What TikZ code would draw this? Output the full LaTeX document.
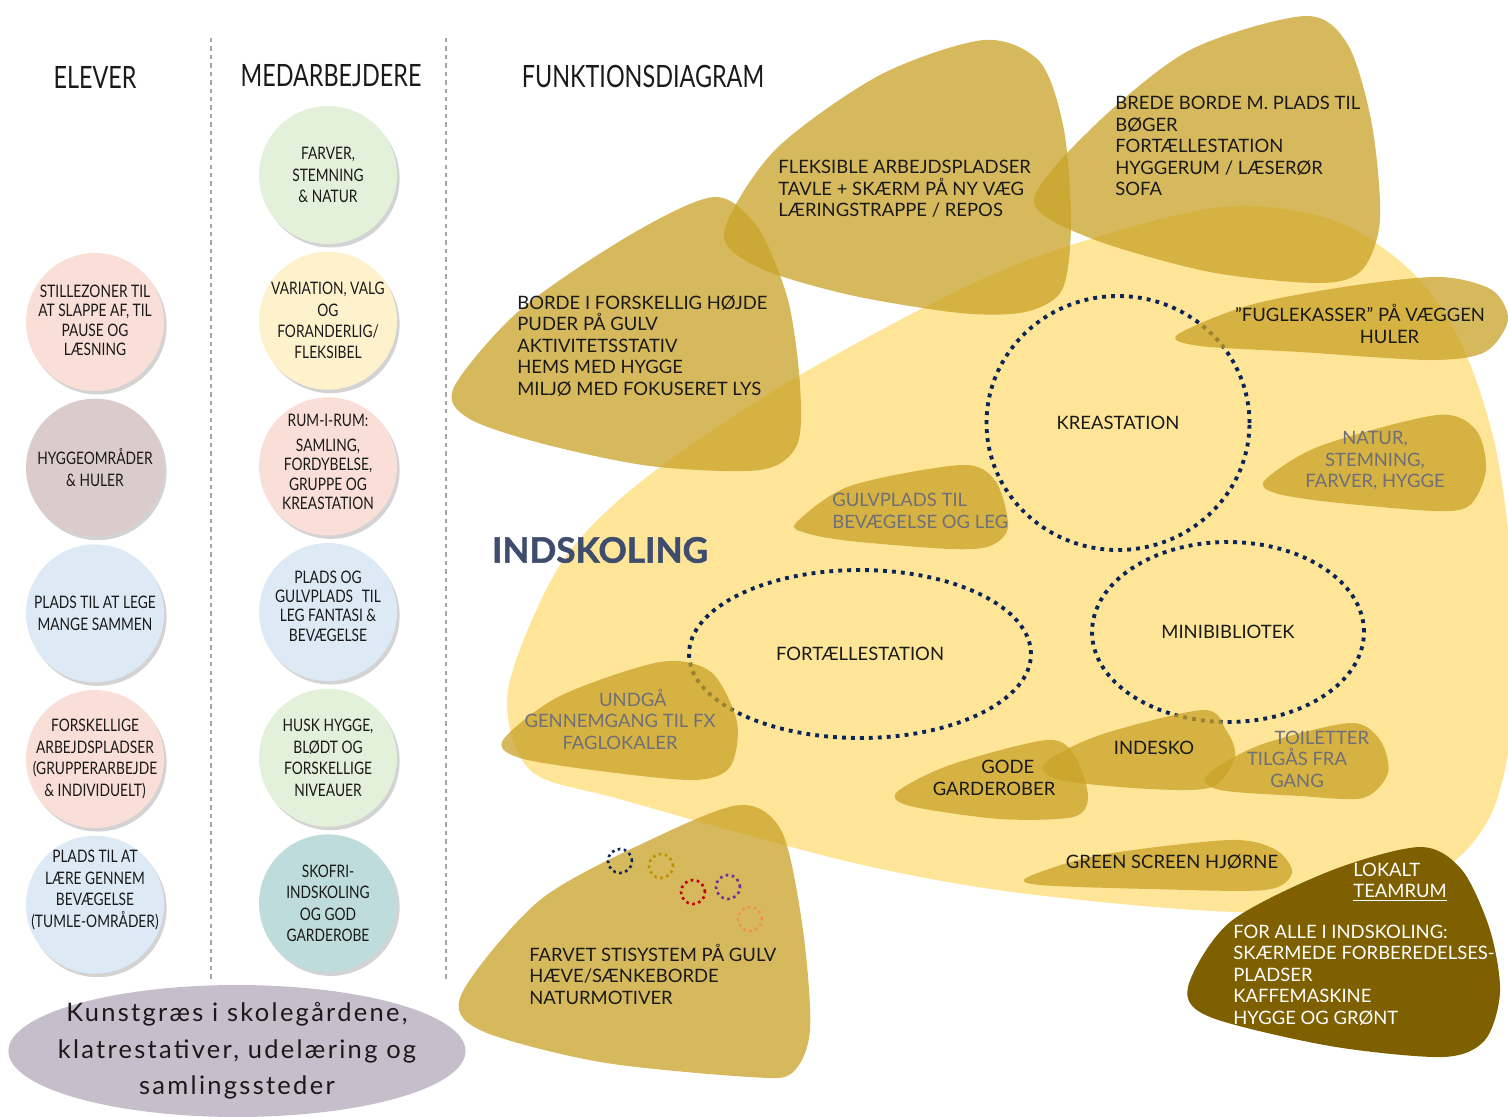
\documentclass[tikz,border=0pt]{standalone}
\usepackage{fontspec}
\setmainfont{Lato}
\newfontfamily\condfont[FakeStretch=0.8]{Lato}
\newfontfamily\titlefont[FakeStretch=0.76]{Lato}
\usetikzlibrary{positioning, shapes.geometric, shadows}

\definecolor{pinkbg}{HTML}{F9DFD7}
\definecolor{mauvebg}{HTML}{DACCCB}
\definecolor{bluebg}{HTML}{DDEAF6}
\definecolor{greenbg}{HTML}{E3F0DA}
\definecolor{creambg}{HTML}{FEF2CD}
\definecolor{tealbg}{HTML}{BEDCDB}
\definecolor{lilacbg}{HTML}{C7BECC}
\definecolor{zoneyellow}{HTML}{FEE597}
\definecolor{ochre}{HTML}{C9A227}
\definecolor{darkgold}{HTML}{BF9000}
\definecolor{olive}{HTML}{7F6000}
\definecolor{navy}{HTML}{0D2458}
\definecolor{slate}{HTML}{3E4D6D}
\definecolor{softgray}{HTML}{6E6F78}
\definecolor{rulegray}{HTML}{A5A5A5}
\definecolor{dotred}{HTML}{C00000}
\definecolor{dotpurple}{HTML}{7030A0}
\definecolor{dotorange}{HTML}{F4904A}
\definecolor{inkblack}{HTML}{1A1A1A}

\begin{document}
\begin{tikzpicture}[x=0.02cm, y=-0.02cm,
    every node/.style={text=inkblack},
    title/.style={font=\titlefont\fontsize{17.5}{20}\selectfont},
    bubble/.style={circle, minimum size=2.76cm, inner sep=-12pt, align=center,
        font=\condfont\fontsize{9.8}{12.2}\selectfont,
        drop shadow={shadow xshift=1.5pt, shadow yshift=-2pt, opacity=0.35}},
    tight/.style={font=\condfont\fontsize{9.8}{11}\selectfont},
    blob/.style={fill=ochre, fill opacity=0.75},
    station/.style={ellipse, draw=navy, line width=2.2pt, dash pattern=on 2.2pt off 2.9pt,
        inner sep=0pt, font=\fontsize{10.5}{12.2}\selectfont},
    listtext/.style={align=left, inner sep=0pt, font=\fontsize{10.5}{12.2}\selectfont},
    grey/.style={text=softgray}]

    \useasboundingbox (0,0) rectangle (1508,1116);

    % Column titles and dividers
    \node[title] (elever) at (95,77) {ELEVER};
    \node[title] (medarb) at (331,76) {MEDARBEJDERE};
    \node[title] (funk) at (643,76) {FUNKTIONSDIAGRAM};
    \draw[rulegray, line width=0.8pt, dash pattern=on 2.5pt off 2.3pt] (211,38) -- (211,980);
    \draw[rulegray, line width=0.8pt, dash pattern=on 2.5pt off 2.3pt] (446,38) -- (446,980);

    % Elever
    \node[bubble, tight, fill=pinkbg] (stille) at (95,322) {\mbox{}\\[-5.9pt]STILLEZONER TIL\\AT SLAPPE AF, TIL\\PAUSE OG\\LÆSNING};
    \node[bubble, fill=mauvebg, below=0.14cm of stille] (hygge) {HYGGEOMRÅDER\\\& HULER};
    \node[bubble, fill=bluebg, below=0.14cm of hygge] (lege) {PLADS TIL AT LEGE\\MANGE SAMMEN};
    \node[bubble, fill=pinkbg, below=0.14cm of lege] (arbejd) {FORSKELLIGE\\ARBEJDSPLADSER\\(GRUPPERARBEJDE\\\& INDIVIDUELT)};
    \node[bubble, fill=bluebg, below=0.14cm of arbejd] (tumle) {\mbox{}\\[-12pt]PLADS TIL AT\\LÆRE GENNEM\\BEVÆGELSE\\(TUMLE-OMRÅDER)\\[-1pt]\mbox{}};

    % Medarbejdere
    \node[bubble, fill=greenbg] (farver) at (328,175) {FARVER,\\STEMNING\\\& NATUR};
    \node[bubble, fill=creambg, below=0.14cm of farver] (variation) {VARIATION, VALG\\OG\\FORANDERLIG/\\FLEKSIBEL};
    \node[bubble, tight, fill=pinkbg, below=0.14cm of variation] (rumirum) {RUM-I-RUM:\\[3pt]SAMLING,\\FORDYBELSE,\\GRUPPE OG\\KREASTATION\\[-6pt]\mbox{}};
    \node[bubble, tight, fill=bluebg, below=0.14cm of rumirum] (gulv) {PLADS OG\\GULVPLADS\enspace TIL\\LEG FANTASI \&\\BEVÆGELSE\\[-4.2pt]\mbox{}};
    \node[bubble, fill=greenbg, below=0.14cm of gulv] (husk) {HUSK HYGGE,\\BLØDT OG\\FORSKELLIGE\\NIVEAUER};
    \node[bubble, fill=tealbg, below=0.14cm of husk] (skofri) {SKOFRI-\\INDSKOLING\\OG GOD\\GARDEROBE};

    % Udeomraade
    \node[ellipse, fill=lilacbg, minimum width=9.12cm, minimum height=2.64cm, inner sep=-10pt, align=center,
        font=\addfontfeatures{LetterSpace=9}\fontsize{14.5}{20.8}\selectfont] (ude) at (237,1051)
        {Kunstgræs i skolegårdene,\\klatrestativer, udelæring og\\samlingssteder};

    % Indskoling zone
    \fill[zoneyellow] plot[smooth cycle] coordinates {(508,690) (560,565) (643,480) (800,375) (1010,267)
        (1213,208) (1333,220) (1413,273) (1462,345) (1495,445) (1512,570) (1514,710) (1495,805)
        (1458,858) (1395,888) (1250,912) (1020,893) (850,862) (623,800) (530,770)};

    % Stations
    \node[station, minimum width=5.26cm, minimum height=5.08cm] (krea) at (1118,423) {KREASTATION};
    \node[station, minimum width=6.84cm, minimum height=3.36cm] (fort) at (860,654) {FORTÆLLESTATION};
    \node[station, minimum width=5.44cm, minimum height=3.6cm] (mini) at (1228,632) {MINIBIBLIOTEK};

    % Function blobs
    \fill[blob] plot[smooth cycle] coordinates {(724,233) (775,150) (880,75) (984,40) (1040,62)
        (1064,130) (1071,225) (1062,290) (1025,312) (960,313) (850,295) (760,268)};
    \fill[blob] plot[smooth cycle] coordinates {(1034,200) (1095,125) (1190,50) (1305,16) (1348,45)
        (1372,125) (1380,220) (1362,270) (1320,283) (1210,272) (1090,238)};
    \fill[blob] plot[smooth cycle] coordinates {(454,387) (520,310) (630,235) (714,197) (758,228)
        (788,300) (800,385) (797,445) (760,470) (650,466) (540,443) (468,418)};
    \fill[blob] plot[smooth cycle] coordinates {(1177,335) (1250,305) (1350,286) (1440,277) (1492,290)
        (1508,320) (1485,352) (1430,360) (1300,352) (1200,346)};
    \fill[blob] plot[smooth cycle] coordinates {(1265,480) (1320,446) (1437,415) (1476,430) (1486,470)
        (1470,505) (1435,511) (1330,502) (1275,493)};
    \fill[blob] plot[smooth cycle] coordinates {(796,523) (850,486) (962,465) (996,482) (1008,527)
        (990,546) (950,549) (850,541) (806,533)};
    \fill[blob] plot[smooth cycle] coordinates {(503,740) (560,696) (660,662) (711,672) (737,722)
        (730,767) (694,780) (600,771) (520,758)};
    \fill[blob] plot[smooth cycle] coordinates {(897,792) (950,765) (1047,740) (1075,756) (1088,797)
        (1073,817) (1000,819) (910,806)};
    \fill[blob] plot[smooth cycle] coordinates {(1045,763) (1100,735) (1203,710) (1226,730) (1235,757)
        (1212,787) (1150,789) (1060,780)};
    \fill[blob] plot[smooth cycle] coordinates {(1207,775) (1260,745) (1350,723) (1380,740) (1388,773)
        (1363,798) (1300,796) (1220,790)};
    \fill[blob] plot[smooth cycle] coordinates {(1028,877) (1100,855) (1230,840) (1276,850) (1292,873)
        (1265,890) (1150,889) (1040,885)};
    \fill[blob] plot[smooth cycle] coordinates {(462,993) (540,900) (650,840) (740,805) (782,832)
        (803,930) (810,1030) (792,1073) (750,1077) (600,1062) (480,1030)};
    \fill[olive] plot[smooth cycle] coordinates {(1188,987) (1230,922) (1330,871) (1420,847) (1462,870)
        (1490,930) (1500,992) (1485,1040) (1443,1057) (1330,1046) (1210,1017)};

    % Colour dots for the path system
    \foreach \cx/\cy/\col in {620/861/navy, 661/866/darkgold, 693/892/dotred, 728/887/dotpurple, 750/919/dotorange} {
        \draw[\col, line width=1.5pt, dash pattern=on 1.5pt off 2pt] (\cx,\cy) circle[radius=0.24cm];
    }

    % Texts in the blobs
    \node[listtext, anchor=west] (flex) at (778,189) {FLEKSIBLE ARBEJDSPLADSER\\TAVLE + SKÆRM PÅ NY VÆG\\LÆRINGSTRAPPE / REPOS};
    \node[listtext, anchor=west] (brede) at (1115,146) {BREDE BORDE M. PLADS TIL\\BØGER\\FORTÆLLESTATION\\HYGGERUM / LÆSERØR\\SOFA};
    \node[listtext, anchor=west] (borde) at (517,346) {BORDE I FORSKELLIG HØJDE\\PUDER PÅ GULV\\AKTIVITETSSTATIV\\HEMS MED HYGGE\\MILJØ MED FOKUSERET LYS};
    \node[listtext, align=center] (fugle) at (1360,324) {”FUGLEKASSER” PÅ VÆGGEN\\\hspace*{3.2em}HULER};
    \node[listtext, align=center, grey] (natur) at (1375,461) {NATUR,\\STEMNING,\\FARVER, HYGGE};
    \node[listtext, anchor=west, grey] (gulvplads) at (832,511) {GULVPLADS TIL\\BEVÆGELSE OG LEG};
    \node[listtext, align=center, grey] (undgaa) at (620,719) {\hspace*{1.4em}UNDGÅ\\GENNEMGANG TIL FX\\FAGLOKALER};
    \node[listtext, align=center] (gode) at (994,778) {\hspace*{1.5em}GODE\\GARDEROBER};
    \node[listtext] (indesko) at (1154,748) {INDESKO};
    \node[listtext, align=center, grey] (toilet) at (1297,759) {\hspace*{2.7em}TOILETTER\\TILGÅS FRA\\GANG};
    \node[listtext] (green) at (1172,862) {GREEN SCREEN HJØRNE};
    \node[listtext, anchor=west, text=white] (lokalt) at (1353,882) {LOKALT\\\underline{TEAMRUM}};
    \node[listtext, anchor=west, text=white] (alle) at (1233,975) {FOR ALLE I INDSKOLING:\\SKÆRMEDE FORBEREDELSES-\\PLADSER\\KAFFEMASKINE\\HYGGE OG GRØNT};
    \node[listtext, anchor=west] (farvet) at (529,974) {FARVET STISYSTEM PÅ GULV\\HÆVE/SÆNKEBORDE\\NATURMOTIVER};

    \node[font=\bfseries\addfontfeatures{FakeBold=1.2}\fontsize{20}{24}\selectfont, text=slate] (indsk) at (600,550) {INDSKOLING};

\end{tikzpicture}
\end{document}
